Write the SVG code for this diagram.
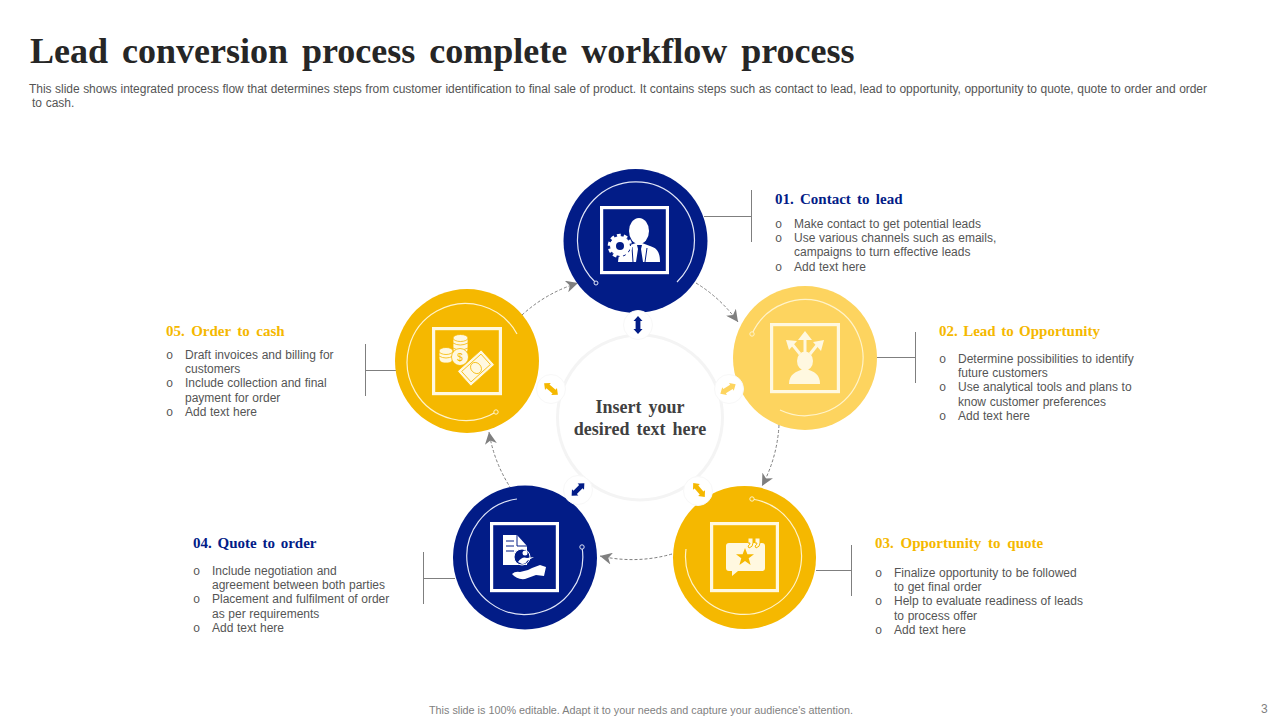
<svg xmlns="http://www.w3.org/2000/svg" width="1280" height="720" viewBox="0 0 1280 720">
<style>
.title{font:bold 36px "Liberation Serif",serif;fill:#262626;word-spacing:5px}
.p{font:12px "Liberation Sans",Arial,sans-serif;fill:#555;word-spacing:.3px}
.b{font:12px "Liberation Mono",monospace;fill:#555}
.h{font:bold 15px "Liberation Serif",serif;word-spacing:2.500px}
.blue{fill:#021c87}.yel{fill:#f5b800}
.c{font:bold 18px "Liberation Serif",serif;fill:#404040;text-anchor:middle;word-spacing:2.500px}
.foot{font:10.800px "Liberation Sans",Arial,sans-serif;fill:#7f7f7f}
.lead{stroke:#7f7f7f;stroke-width:1;fill:none}
.dash{stroke:#7f7f7f;stroke-width:1;stroke-dasharray:3 2;fill:none;marker-end:url(#ah)}
.ring{fill:none;stroke-width:1.200}
.frame{fill:none;stroke-width:3.200}
.hub{fill:#fff;stroke:#f8f8f8;stroke-width:1}
</style>
<defs>
<marker id="ah" markerUnits="userSpaceOnUse" markerWidth="14" markerHeight="12" refX="12" refY="6" orient="auto"><path d="M0 0L12 6L0 12L3.500 6Z" fill="#7f7f7f"/></marker>
<path id="dbl" d="M0-9L4.500-4H2.400V4H4.500L0 9L-4.500 4H-2.400V-4H-4.500Z"/>
</defs>
<rect width="1280" height="720" fill="#fff"/>
<text class="title" x="30" y="63">Lead conversion process complete workflow process</text>
<text class="p" x="29" y="93" textLength="1178">This slide shows integrated process flow that determines steps from customer identification to final sale of product. It contains steps such as contact to lead, lead to opportunity, opportunity to quote, quote to order and order</text>
<text class="p" x="32" y="107">to cash.</text>

<g id="connectors">
<path class="lead" d="M704 216.500H751.500M751.500 190V242"/>
<path class="lead" d="M877 357.500H915.500M915.500 332V383"/>
<path class="lead" d="M816 570.500H851.500M851.500 545V596"/>
<path class="lead" d="M423.500 578.500H455M423.500 552V604"/>
<path class="lead" d="M365.500 370.500H396M365.500 344V396"/>
<path class="dash" d="M696 283A145 145 0 0 1 738 322"/>
<path class="dash" d="M779 425A145 145 0 0 1 762 486"/>
<path class="dash" d="M672 554A145 145 0 0 1 600 556"/>
<path class="dash" d="M517 497A145 145 0 0 1 489 432"/>
<path class="dash" d="M522 315A145 145 0 0 1 578 283"/>
</g>

<g id="center"><circle cx="640" cy="417.500" r="82.500" fill="#fff" stroke="#f4f4f4" stroke-width="3"/>
<text class="c" x="640" y="413">Insert your</text><text class="c" x="640" y="435">desired text here</text></g>

<g id="node1">
<circle cx="635.500" cy="241" r="72" fill="#021c87"/>
<path class="ring" stroke="#dfe4f7" d="M596 283A58.500 58.500 0 1 1 677 282"/>
<circle cx="596" cy="283" r="2" fill="#021c87" stroke="#dfe4f7"/>
<rect class="frame" stroke="#fff" x="601.600" y="207.600" width="65.800" height="65"/>
<path fill="#fff" d="M618 262C619 251 622 247 630 245L636 243L642 243L650 246C657 248 660 252 660 262Z"/>
<ellipse cx="639" cy="231" rx="10" ry="13" fill="#fff"/>
<path fill="#021c87" d="M637 245H642L641 249L643 262H636L638 249Z"/>
<path stroke="#021c87" fill="none" stroke-width="1" d="M647 248L645 262M632 247L633 262"/>
<circle cx="620" cy="246" r="10.500" fill="#fff" stroke="#021c87" stroke-width="1"/>
<circle cx="620" cy="246" r="10.500" fill="none" stroke="#fff" stroke-width="3.500" stroke-dasharray="3.700 2.900"/>
<circle cx="620" cy="246" r="4" fill="#021c87"/>
</g>

<g id="node2">
<circle cx="805" cy="358" r="72" fill="#fdd45f"/>
<path class="ring" stroke="#fff3c9" d="M752 334A58 58 0 1 1 780 410"/>
<circle cx="752" cy="334" r="2.200" fill="#fdd45f" stroke="#fff3c9"/>
<rect class="frame" stroke="#fff8e0" x="771.600" y="324.600" width="66.800" height="67"/>
<ellipse cx="805" cy="361" rx="8" ry="9.500" fill="#fff8e0"/>
<path fill="#fff8e0" d="M789 384C789 375 795 371 805 369C815 371 820 375 820 384Z"/>
<path stroke="#fff8e0" stroke-width="3" fill="none" d="M805 352V338M800 354L792 344M810 354L818 344"/>
<path fill="#fff8e0" d="M805 331L812 340H798ZM786 340L797 341L789 350ZM824 340L821 351L813 342Z"/>
</g>

<g id="node3">
<circle cx="744.500" cy="557.500" r="71.500" fill="#f5b800"/>
<path class="ring" stroke="#fff3c9" d="M752 499A58 58 0 1 1 686 549"/>
<circle cx="752" cy="499" r="2.200" fill="#f5b800" stroke="#fff3c9"/>
<rect class="frame" stroke="#fff8e0" x="711.600" y="523.600" width="65.800" height="67"/>
<path fill="#fff8e0" d="M729 543H762Q765 543 765 546V568Q765 571 762 571H738L732 576L732 571H729Q726 571 726 568V546Q726 543 729 543Z"/>
<path fill="#f5b800" d="M745 548L747.400 554.200H754L748.700 558.300L750.600 565L745 561L739.400 565L741.300 558.300L736 554.200H742.600Z"/>
<path fill="#fff8e0" stroke="#f5b800" stroke-width="1" d="M748 538H753V543Q753 547 749 548L748 546Q750 545 750 543H748ZM755 538H760V543Q760 547 756 548L755 546Q757 545 757 543H755Z"/>
</g>

<g id="node4">
<circle cx="525" cy="557.500" r="72" fill="#021c87"/>
<path class="ring" stroke="#dfe4f7" d="M582 547A58 58 0 1 1 517 499"/>
<circle cx="582" cy="547" r="2.200" fill="#021c87" stroke="#dfe4f7"/>
<rect class="frame" stroke="#fff" x="491.600" y="523.600" width="65.800" height="67"/>
<path fill="#fff" d="M503 535H517L527 546V565H503Z"/>
<path stroke="#021c87" stroke-width="1" fill="none" d="M506 541H514M506 546H514M506 551H514M517 535V546H527"/>
<circle cx="522" cy="557" r="8" fill="#021c87" stroke="#fff" stroke-width="1"/>
<circle cx="525" cy="553" r="2.500" fill="#fff"/><path fill="#fff" d="M518 562Q522 556 527 558L534 557L527 561Q526 564 522 564Z"/>
<path fill="#fff" d="M512 574Q515 571 520 572L528 570L532 568L540 565L546 567L544 576L536 575L525 579Q517 580 512 574Z"/>
</g>

<g id="node5">
<circle cx="467" cy="361" r="72" fill="#f5b800"/>
<path class="ring" stroke="#fff3c9" d="M496 412A58.500 58.500 0 1 1 517 334"/>
<circle cx="496" cy="412" r="2.200" fill="#f5b800" stroke="#fff3c9"/>
<rect class="frame" stroke="#fff8e0" x="433.600" y="328.600" width="66.800" height="65"/>
<g fill="#fff8e0" stroke="#f5b800" stroke-width=".8">
<rect x="453" y="335" width="15" height="19" rx="5"/><ellipse cx="460.500" cy="338" rx="7.500" ry="3.500"/>
<path fill="none" d="M453 343Q460 347 468 343M453 348Q460 352 468 348"/>
<rect x="439" y="349" width="14" height="14" rx="5"/><ellipse cx="446" cy="351" rx="7" ry="3.500"/>
<path fill="none" d="M439 356Q446 360 453 356"/>
<circle cx="460" cy="357" r="8.500"/>
<g transform="rotate(-42 476 368)"><rect x="460" y="358" width="32" height="20" rx="1"/><rect x="463" y="361" width="26" height="14" fill="none"/><ellipse cx="476" cy="368" rx="5" ry="6"/></g>
</g>
<text x="460" y="361" text-anchor="middle" font-family="Liberation Sans,sans-serif" font-size="10" fill="#f5b800">$</text>
</g>

<g id="hubs">
<circle class="hub" cx="638" cy="325" r="14.500"/><use href="#dbl" transform="translate(638 325)" fill="#021c87"/>
<circle class="hub" cx="729" cy="389" r="14.500"/><use href="#dbl" transform="translate(728 389) rotate(58)" fill="#fdd45f"/>
<circle class="hub" cx="698" cy="491" r="14.500"/><use href="#dbl" transform="translate(699 490) rotate(-40)" fill="#f5b800"/>
<circle class="hub" cx="578" cy="490" r="14.500"/><use href="#dbl" transform="translate(578 489.500) rotate(45)" fill="#021c87"/>
<circle class="hub" cx="551" cy="389" r="14.500"/><use href="#dbl" transform="translate(551 389) rotate(-50)" fill="#f5b800"/>
</g>

<g id="label1">
<text class="h blue" x="775" y="204">01. Contact to lead</text>
<text class="b" x="775" y="228">o</text><text class="p" x="794" y="228">Make contact to get potential leads</text>
<text class="b" x="775" y="242">o</text><text class="p" x="794" y="242">Use various channels such as emails,</text>
<text class="p" x="794" y="256">campaigns to turn effective leads</text>
<text class="b" x="775" y="271">o</text><text class="p" x="794" y="271">Add text here</text>
</g>
<g id="label2">
<text class="h yel" x="939" y="336" style="word-spacing:1.700px">02. Lead to Opportunity</text>
<text class="b" x="939" y="363">o</text><text class="p" x="958" y="363">Determine possibilities to identify</text>
<text class="p" x="958" y="377">future customers</text>
<text class="b" x="939" y="391">o</text><text class="p" x="958" y="391">Use analytical tools and plans to</text>
<text class="p" x="958" y="406">know customer preferences</text>
<text class="b" x="939" y="420">o</text><text class="p" x="958" y="420">Add text here</text>
</g>
<g id="label3">
<text class="h yel" x="875" y="548" style="word-spacing:3px">03. Opportunity to quote</text>
<text class="b" x="875" y="577">o</text><text class="p" x="894" y="577">Finalize opportunity to be followed</text>
<text class="p" x="894" y="591">to get final order</text>
<text class="b" x="875" y="605">o</text><text class="p" x="894" y="605">Help to evaluate readiness of leads</text>
<text class="p" x="894" y="620">to process offer</text>
<text class="b" x="875" y="634">o</text><text class="p" x="894" y="634">Add text here</text>
</g>
<g id="label4">
<text class="h blue" x="193" y="548" style="word-spacing:2px">04. Quote to order</text>
<text class="b" x="193" y="575">o</text><text class="p" x="212" y="575">Include negotiation and</text>
<text class="p" x="212" y="589">agreement between both parties</text>
<text class="b" x="193" y="603">o</text><text class="p" x="212" y="603">Placement and fulfilment of order</text>
<text class="p" x="212" y="618">as per requirements</text>
<text class="b" x="193" y="632">o</text><text class="p" x="212" y="632">Add text here</text>
</g>
<g id="label5">
<text class="h yel" x="166" y="336" style="word-spacing:2.700px">05. Order to cash</text>
<text class="b" x="166" y="359">o</text><text class="p" x="185" y="359">Draft invoices and billing for</text>
<text class="p" x="185" y="373">customers</text>
<text class="b" x="166" y="387">o</text><text class="p" x="185" y="387">Include collection and final</text>
<text class="p" x="185" y="402">payment for order</text>
<text class="b" x="166" y="416">o</text><text class="p" x="185" y="416">Add text here</text>
</g>
<text class="foot" x="429" y="714">This slide is 100% editable. Adapt it to your needs and capture your audience's attention.</text>
<text class="foot" x="1261" y="713" style="font-size:12px">3</text>
</svg>
